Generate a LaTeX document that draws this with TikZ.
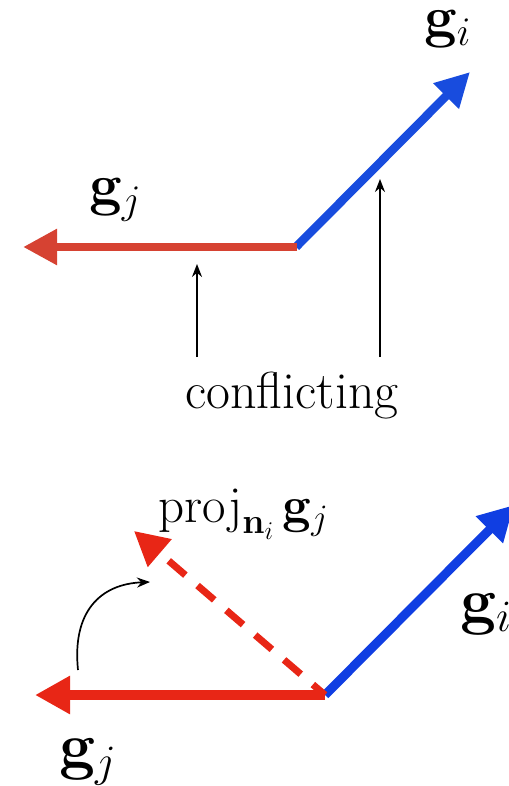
\RequirePackage{fix-cm}
\documentclass[tikz,border=0pt]{standalone}
\usetikzlibrary{arrows.meta}
\definecolor{topred}{RGB}{214,66,50}
\definecolor{topblue}{RGB}{24,76,222}
\definecolor{botred}{RGB}{232,38,22}
\definecolor{botblue}{RGB}{16,62,226}
\tikzset{
  vec/.style={line width=8.5pt, -{Triangle[length=34pt,width=34pt]}},
  thinarrow/.style={line width=1.7pt, black, -{Stealth[length=13pt,width=10pt]}},
  biglabel/.style={font=\fontsize{58}{66}\selectfont, inner sep=0pt, anchor=base west},
  botlabel/.style={biglabel, font=\fontsize{64}{72}\selectfont},
  projlabel/.style={biglabel, font=\fontsize{51}{60}\selectfont},
  txtlabel/.style={font=\fontsize{52}{60}\selectfont, inner sep=0pt, anchor=base},
}
\begin{document}
\begin{tikzpicture}[x=1pt,y=-1pt]
\useasboundingbox (0,0) rectangle (508,786);
% ---- top panel ----
\coordinate (O1) at (296,247);
\coordinate (gjT) at (23,247);
\coordinate (giT) at (470,72);
\draw[vec, topblue] (O1) -- (giT);
\draw[vec, topred, shorten <=-1pt] (O1) -- (gjT);
\node[biglabel] (lgi) at (424,37) {$\mathbf{g}_i$};
\node[biglabel] (lgj) at (89,205) {$\mathbf{g}_j$};
\node[txtlabel] (conf) at (292,408) {conflicting};
\coordinate (a1s) at (197,357);
\coordinate (a1e) at (197,264);
\coordinate (a2s) at (380,357);
\coordinate (a2e) at (380,179);
\draw[thinarrow] (a1s) -- (a1e);
\draw[thinarrow] (a2s) -- (a2e);
% ---- bottom panel ----
\coordinate (O2) at (325,695);
\coordinate (gjB) at (35,695);
\coordinate (giB) at (514,505);
\coordinate (prB) at (134,531);
\draw[vec, botblue, line width=9pt, -{Triangle[length=35pt,width=36pt]}] (O2) -- (giB);
\draw[vec, botred, line width=9.5pt, -{Triangle[length=35pt,width=36pt]}] (O2) -- (gjB);
\draw[botred, line width=7pt, dash pattern=on 22pt off 16pt, dash phase=6pt,
      -{Triangle[length=34pt,width=35pt]}] (O2) -- (prB);
\node[projlabel] (lprj) at (158,522) {$\mathrm{proj}_{\mathbf{n}_i}\mkern3mu\mathbf{g}_j$};
\node[botlabel] (lgi2) at (460,622) {$\mathbf{g}_i$};
\node[botlabel] (lgj2) at (59,767) {$\mathbf{g}_j$};
\coordinate (cs) at (78,670);
\coordinate (ce) at (150,582);
\draw[thinarrow] (cs) .. controls (72,612) and (100,584) .. (ce);
\end{tikzpicture}
\end{document}
